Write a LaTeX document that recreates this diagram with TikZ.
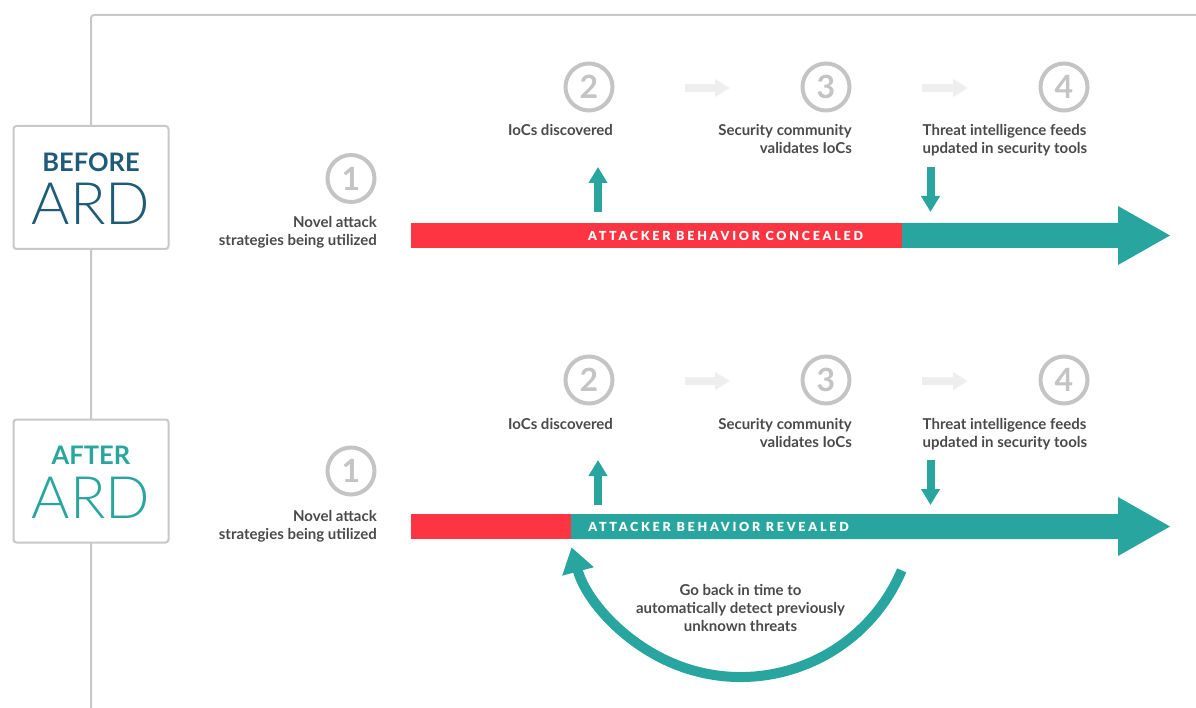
\documentclass[tikz,border=0pt]{standalone}
\usepackage{fontspec}
\setmainfont{Lato}
\newfontfamily\latolight{Lato Light}
\newfontfamily\spacedfont{Lato Black}[LetterSpace=22]
\usetikzlibrary{arrows.meta,calc}
\definecolor{barred}{HTML}{FD3441}
\definecolor{teal}{HTML}{29A59F}
\definecolor{darkteal}{HTML}{1E5B78}
\definecolor{txtgray}{HTML}{4A4A4A}
\definecolor{circgray}{HTML}{C4C4C4}
\definecolor{linegray}{HTML}{C8C8C8}
\definecolor{ghost}{HTML}{EEEEEE}
\tikzset{
  frameline/.style={draw=linegray, line width=2pt},
  phasebox/.style={draw=linegray, line width=2pt, fill=white, rounded corners=3pt, minimum width=155pt, minimum height=123pt, inner sep=0pt},
  phasetop/.style={font=\bfseries\fontsize{25.5}{25.5}\selectfont, anchor=base, inner sep=0pt},
  phaseard/.style={font=\latolight\fontsize{58.5}{58.5}\selectfont, anchor=base, inner sep=0pt},
  stepcircle/.style={circle, draw=circgray, line width=4pt, minimum size=47pt, inner sep=0pt, text=circgray, font=\bfseries\fontsize{32}{32}\selectfont},
  lbl/.style={text=txtgray, font=\bfseries\fontsize{15}{18}\selectfont, inner sep=0pt},
  bartext/.style={text=white, font=\spacedfont\fontsize{12.5}{12.5}\selectfont, inner sep=0pt},
  vert/.style={draw=teal, line width=8pt, -{Triangle[length=16pt,width=18pt]}},
  ghostarrow/.style={draw=ghost, line width=8pt, -{Triangle[length=15pt,width=17pt]}},
  backarrow/.style={draw=teal, line width=10pt, -{Triangle[length=25pt,width=31pt]}},
}
\begin{document}
\begin{tikzpicture}[x=1pt,y=-1pt]
\useasboundingbox (0,0) rectangle (1196,708);
% frame line
\draw[frameline, rounded corners=3pt] (91,708) -- (91,15) -- (1196,15);

% ===== BEFORE =====
\node[phasebox] (beforebox) at (91,187.5) {};
\node[phasetop, text=darkteal] (beforeT) at (91,171.5) {BEFORE};
\node[phaseard, text=darkteal] (beforeA) at (91,224.5) {ARD};

\node[stepcircle] (b1) at (351,178.5) {1};
\node[stepcircle] (b2) at (589,87) {2};
\node[stepcircle] (b3) at (826,87) {3};
\node[stepcircle] (b4) at (1064,87) {4};

\node[lbl, anchor=base east, align=right] (bl1) at (377,246) {Novel attack\\strategies being utilized};
\node[lbl, anchor=base] (bl2) at (560.5,136) {IoCs discovered};
\node[lbl, anchor=base east, align=right] (bl3) at (852,154) {Security community\\validates IoCs};
\node[lbl, anchor=base west, align=left] (bl4) at (922.5,154) {Threat intelligence feeds\\updated in security tools};

\coordinate (bg1s) at (685,88);
\coordinate (bg1e) at (730,88);
\coordinate (bg2s) at (922,88);
\coordinate (bg2e) at (968,88);
\draw[ghostarrow] (bg1s) -- (bg1e);
\draw[ghostarrow] (bg2s) -- (bg2e);

\fill[barred] (411,223) rectangle (902,248);
\fill[teal] (902,223) -- (1118,223) -- (1118,206) -- (1170,235.5) -- (1118,265) -- (1118,248) -- (902,248) -- cycle;
\node[bartext] (bt) at (725.5,235.5) {ATTACKER BEHAVIOR CONCEALED};

\coordinate (bup0) at (598,212);
\coordinate (bup1) at (598,167);
\coordinate (bdn0) at (930.5,167);
\coordinate (bdn1) at (930.5,212);
\draw[vert] (bup0) -- (bup1);
\draw[vert] (bdn0) -- (bdn1);

% ===== AFTER =====
\node[phasebox] (afterbox) at (91,481) {};
\node[phasetop, text=teal] (afterT) at (91,464.3) {AFTER};
\node[phaseard, text=teal] (afterA) at (91,518.5) {ARD};

\node[stepcircle] (a1) at (351,471) {1};
\node[stepcircle] (a2) at (589,380) {2};
\node[stepcircle] (a3) at (826,380) {3};
\node[stepcircle] (a4) at (1064,380) {4};

\node[lbl, anchor=base east, align=right] (al1) at (377,539) {Novel attack\\strategies being utilized};
\node[lbl, anchor=base] (al2) at (560.5,429) {IoCs discovered};
\node[lbl, anchor=base east, align=right] (al3) at (852,447) {Security community\\validates IoCs};
\node[lbl, anchor=base west, align=left] (al4) at (922.5,447) {Threat intelligence feeds\\updated in security tools};

\coordinate (ag1s) at (685,381);
\coordinate (ag1e) at (730,381);
\coordinate (ag2s) at (922,381);
\coordinate (ag2e) at (968,381);
\draw[ghostarrow] (ag1s) -- (ag1e);
\draw[ghostarrow] (ag2s) -- (ag2e);

\fill[barred] (411,514) rectangle (571,539);
\fill[teal] (571,514) -- (1118,514) -- (1118,497) -- (1170,526.5) -- (1118,556) -- (1118,539) -- (571,539) -- cycle;
\node[bartext] (at) at (718.5,526.5) {ATTACKER BEHAVIOR REVEALED};

\coordinate (aup0) at (598,505);
\coordinate (aup1) at (598,460);
\coordinate (adn0) at (930.5,460);
\coordinate (adn1) at (930.5,505);
\draw[vert] (aup0) -- (aup1);
\draw[vert] (adn0) -- (adn1);

% go-back arc
\coordinate (arcc) at (740.6,502);
\coordinate (arcs) at ($(arcc)+(23:175)$);
\draw[backarrow] (arcs) arc[start angle=23, end angle=165, radius=175];
\node[lbl, anchor=base, align=center] (gb) at (740.5,631.5) {Go back in time to\\automatically detect previously\\unknown threats};
\end{tikzpicture}
\end{document}
